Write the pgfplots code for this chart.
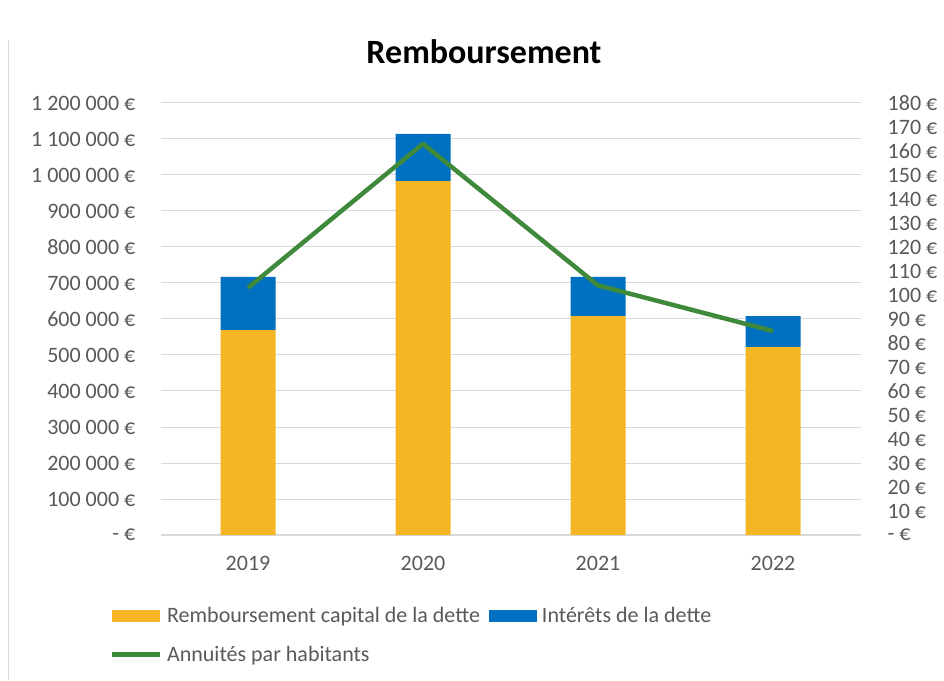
\documentclass[border=0pt]{standalone}
\usepackage{pgfplots}
\pgfplotsset{compat=1.18}
\usepackage{fontspec}
\setmainfont{Carlito}
\definecolor{cyellow}{HTML}{F5B625}
\definecolor{cblue}{HTML}{0070C0}
\definecolor{cgreen}{HTML}{3F8A3A}
\definecolor{ctext}{HTML}{595959}
\definecolor{cgrid}{HTML}{D9D9D9}
\begin{document}
\begin{tikzpicture}[x=1pt,y=1pt]
\useasboundingbox (0,0) rectangle (944,680);
\draw[cgrid, line width=1pt] (8,0) -- (8,640);
\node[font=\fontsize{34}{40}\selectfont\bfseries] at (484,628) {Remboursement};
% axe principal : barres empilees
\begin{axis}[
  at={(160.5pt,145pt)}, anchor=south west,
  scale only axis, width=700pt, height=432pt,
  xmin=-0.5, xmax=3.5, ymin=0, ymax=1200000,
  scaled y ticks=false,
  ybar stacked, bar width=55pt,
  axis x line*=bottom, axis y line*=left,
  y axis line style={draw=none},
  x axis line style={color=cgrid, line width=1.2pt},
  major tick length=0pt,
  ymajorgrids, grid style={cgrid, line width=1pt},
  xtick={0,1,2,3}, xticklabels={2019,2020,2021,2022},
  ytick={0,100000,...,1200000},
  yticklabels={- €,100 000 €,200 000 €,300 000 €,400 000 €,500 000 €,600 000 €,700 000 €,800 000 €,900 000 €,1 000 000 €,1 100 000 €,1 200 000 €},
  tick label style={font=\fontsize{22}{26}\selectfont, text=ctext, inner sep=0pt},
  yticklabel style={anchor=east, xshift=-25pt},
  xticklabel style={anchor=north, yshift=-21pt},
  legend columns=2,
  legend cell align=left,
  legend style={at={(-0.073,-0.167)}, anchor=north west, draw=none, fill=none,
    inner sep=0pt, font=\fontsize{22}{26}\selectfont, text=ctext,
    nodes={inner sep=0pt}, column sep=5pt, row sep=22pt,
    /tikz/every even column/.append style={column sep=9pt}},
]
\addplot[fill=cyellow, draw=none,
  legend image code/.code={\fill[cyellow] (0pt,-6pt) rectangle (48pt,6pt);}]
  coordinates {(0,569000) (1,983000) (2,608000) (3,522000)};
\addlegendentry{Remboursement capital de la dette}
\addplot[fill=cblue, draw=none,
  legend image code/.code={\fill[cblue] (0pt,-6pt) rectangle (48pt,6pt);}]
  coordinates {(0,148000) (1,131000) (2,109000) (3,86000)};
\addlegendentry{Intérêts de la dette}
\addlegendimage{legend image code/.code={\draw[cgreen, line width=4.5pt] (0pt,0pt) -- (48pt,0pt);}}
\addlegendentry{Annuités par habitants}
\end{axis}
% axe secondaire : annuites par habitant
\begin{axis}[
  at={(160.5pt,145pt)}, anchor=south west,
  scale only axis, width=700pt, height=432pt,
  xmin=-0.5, xmax=3.5, ymin=0, ymax=180,
  axis x line=none, axis y line*=right,
  y axis line style={draw=none},
  major tick length=0pt,
  ytick={0,10,...,180},
  yticklabels={- €,10 €,20 €,30 €,40 €,50 €,60 €,70 €,80 €,90 €,100 €,110 €,120 €,130 €,140 €,150 €,160 €,170 €,180 €},
  tick label style={font=\fontsize{22}{26}\selectfont, text=ctext, inner sep=0pt},
  yticklabel style={anchor=west, xshift=27pt},
]
\addplot[cgreen, line width=4.5pt, line join=round, mark=none]
  coordinates {(0,103) (1,163) (2,104) (3,85)};
\end{axis}
\end{tikzpicture}
\end{document}
